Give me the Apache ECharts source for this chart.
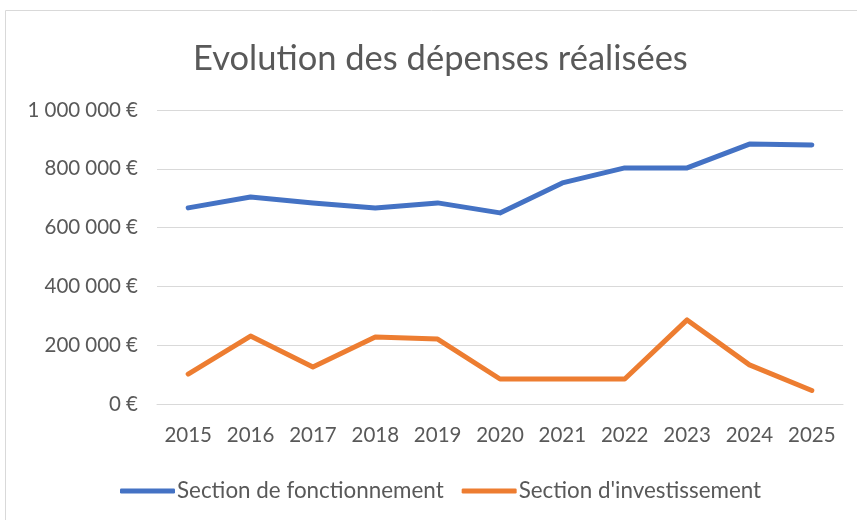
<!DOCTYPE html>
<html><head><meta charset="utf-8">
<script src="https://cdn.jsdelivr.net/npm/echarts@6/dist/echarts.min.js"></script>
<style>html,body{margin:0;padding:0;background:#fff}#c{width:857px;height:520px}</style>
</head><body><div id="c"></div>
<script>
const categories = ['2015','2016','2017','2018','2019','2020','2021','2022','2023','2024','2025'];
const fonctionnement = [667000, 704000, 684000, 667000, 684000, 650000, 752000, 803000, 803000, 884000, 881000];
const investissement = [102000, 231000, 126000, 228000, 221000, 85000, 85000, 85000, 286000, 133000, 46000];
const seriesNames = ['Section de fonctionnement', "Section d'investissement"];
const font = "Lato, 'Open Sans', sans-serif";
const chart = echarts.init(document.getElementById('c'));
function fmt(v){ return String(v).replace(/\B(?=(\d{3})+(?!\d))/g, '\u2005') + '\u2005€'; }
chart.setOption({
  animation: false,
  graphic: [{type:'rect', shape:{x:5.5,y:10.5,width:860,height:520}, style:{fill:'none', stroke:'#d9d9d9', lineWidth:1}, silent:true}],
  title: { text: 'Evolution des dépenses réalisées', left: 188, top: 36,
    textStyle: { fontFamily: font, fontSize: 34.5, fontWeight: 'normal', color: '#595959' } },
  legend: { bottom: 13, left: 115, icon: 'roundRect', itemWidth: 55, itemHeight: 5, itemGap: 18,
    textStyle: { fontFamily: font, fontSize: 22.4, color: '#595959', padding:[0,0,0,-3] },
    data: seriesNames },
  grid: { left: 157, right: 14, top: 110, bottom: 116, containLabel: false },
  xAxis: { type: 'category', data: categories, boundaryGap: true,
    axisLine: { lineStyle: { color: '#d9d9d9', width: 1 } }, axisTick: { show: false },
    axisLabel: { fontFamily: font, fontSize: 20.5, color: '#595959', margin: 21 } },
  yAxis: { type: 'value', min: 0, max: 1000000, interval: 200000,
    axisLine: { show: false }, axisTick: { show: false },
    splitLine: { lineStyle: { color: '#d9d9d9', width: 1 } },
    axisLabel: { fontFamily: font, fontSize: 20.5, color: '#595959', margin: 19, formatter: fmt } },
  series: [
    { name: seriesNames[0], type: 'line', data: fonctionnement, symbol: 'none',
      lineStyle: { color: '#4472C4', width: 5, cap: 'round', join: 'round' }, itemStyle: { color: '#4472C4' } },
    { name: seriesNames[1], type: 'line', data: investissement, symbol: 'none',
      lineStyle: { color: '#ED7D31', width: 5, cap: 'round', join: 'round' }, itemStyle: { color: '#ED7D31' } }
  ]
});
</script></body></html>
